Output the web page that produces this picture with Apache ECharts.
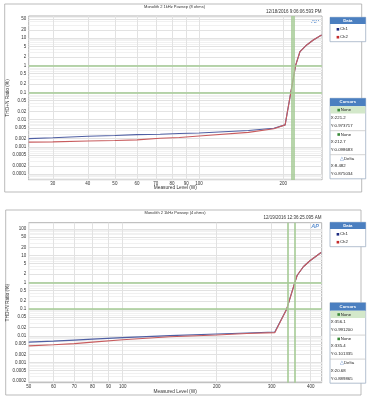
<!DOCTYPE html>
<html><head><meta charset="utf-8">
<script src="https://cdn.jsdelivr.net/npm/echarts@6/dist/echarts.min.js"></script>
<style>html,body{margin:0;padding:0;background:#fff}#c{width:372px;height:399px}</style>
</head><body><div id="c"></div>
<script>
// ---- data: top chart (8 ohms) ----
const topWatts = [24.6, 30, 40, 50, 60, 72.6, 85, 100, 150, 185, 203, 212.7, 221.2, 229.5, 242.5, 256, 274];
const topCh1   = [0.0020, 0.00215, 0.00245, 0.0026, 0.0028, 0.0029, 0.0031, 0.0032, 0.0040, 0.0048, 0.0064, 0.0987, 0.974, 3.2, 5.6, 8.5, 13];
const topCh2   = [0.00148, 0.00152, 0.00163, 0.0017, 0.0018, 0.00205, 0.0022, 0.0025, 0.0034, 0.0046, 0.0064, 0.0987, 0.974, 3.2, 5.6, 8.5, 13];
const topXTicks = [30, 40, 50, 60, 70, 80, 90, 100, 200];
const topYTicks = [0.0001, 0.0002, 0.0005, 0.001, 0.002, 0.005, 0.01, 0.02, 0.05, 0.1, 0.2, 0.5, 1, 2, 5, 10, 20, 50];
const topCursorX = [212.7, 221.2];
const topCursorY = [0.098683, 0.973717];
const topCursorText = ['X:221.2', 'Y:0.973717', 'X:212.7', 'Y:0.098683', 'X:8.482', 'Y:0.875034'];
// ---- data: bottom chart (4 ohms) ----
const botWatts = [50, 60, 70, 80, 100, 141.7, 200, 250, 307, 335.4, 356.1, 362, 379, 398, 432];
const botCh1   = [0.0058, 0.0063, 0.0069, 0.0075, 0.0085, 0.0101, 0.0116, 0.0127, 0.0138, 0.1013, 0.991, 1.8, 3.8, 6.4, 13];
const botCh2   = [0.0042, 0.0046, 0.0051, 0.0058, 0.0071, 0.0092, 0.0107, 0.0122, 0.0131, 0.1013, 0.991, 1.8, 3.8, 6.4, 13];
const botXTicks = [50, 60, 70, 80, 90, 100, 200, 300, 400];
const botYTicks = [0.0002, 0.0005, 0.001, 0.002, 0.005, 0.01, 0.02, 0.05, 0.1, 0.2, 0.5, 1, 2, 5, 10, 20, 50, 100];
const botCursorX = [335.4, 356.1];
const botCursorY = [0.101335, 0.991200];
const botCursorText = ['X:356.1', 'Y:0.991200', 'X:335.4', 'Y:0.101335', 'X:20.68', 'Y:0.889865'];

const titles = ['Monolith 2 1kHz Powsep (8 ohms)', 'Monolith 2 1kHz Powsep (4 ohms)'];
const stamps = ['12/18/2016 9:06:06.593 PM', '12/19/2016 12:36:25.095 AM'];
const legendNames = ['Ch1', 'Ch2'];

const L = Math.log10;
const FONT = 'Liberation Sans';
const C1 = '#4f5fa3', C2 = '#c85c5e';

function minorTicks(lo, hi) {
  const out = [];
  for (let e = -6; e <= 3; e++) for (let k = 1; k <= 9; k++) {
    const v = k * Math.pow(10, e);
    if (v >= lo && v <= hi) out.push(L(v));
  }
  return out;
}
const fmt = v => String(+Math.pow(10, v).toPrecision(3));

function xAxis(grid, min, max, ticks, gap) {
  return {
    type: 'value', gridIndex: grid, min: L(min), max: L(max),
    name: 'Measured Level (W)', nameLocation: 'middle', nameGap: gap, nameMoveOverlap: false,
    nameTextStyle: { fontSize: 4.8, color: '#333', fontFamily: FONT, verticalAlign: 'top' },
    axisLine: { show: false },
    axisTick: { show: false, customValues: ticks.map(L) },
    axisLabel: { customValues: ticks.map(L), formatter: fmt, fontSize: 4.5, color: '#333', fontFamily: FONT, margin: 1.5 },
    splitLine: { show: true, lineStyle: { color: '#e2e2e2', width: 1 } }
  };
}
function yAxis(grid, min, max, ticks) {
  return {
    type: 'value', gridIndex: grid, min: L(min), max: L(max), position: 'left',
    name: 'THD+N Ratio (%)', nameLocation: 'middle', nameGap: 19, nameMoveOverlap: false,
    nameTextStyle: { fontSize: 4.8, color: '#333', fontFamily: FONT },
    axisLine: { show: false },
    axisTick: { show: false, customValues: ticks.map(L) },
    axisLabel: { customValues: ticks.map(L), formatter: fmt, fontSize: 4.5, color: '#333', fontFamily: FONT, margin: 2.5 },
    splitLine: { show: true, lineStyle: { color: '#e2e2e2', width: 1 } }
  };
}
function yMinor(grid, min, max) {
  return {
    type: 'value', gridIndex: grid, min: L(min), max: L(max), position: 'left',
    axisLine: { show: false }, axisLabel: { show: false },
    axisTick: { show: false, customValues: minorTicks(min, max) },
    splitLine: { show: true, lineStyle: { color: '#f1f1f1', width: 1 } }
  };
}
function lineSeries(name, xi, yi, xs, ys, color, z, cursX, cursY) {
  const s = {
    name, type: 'line', xAxisIndex: xi, yAxisIndex: yi, symbol: 'none', z,
    lineStyle: { color, width: 1.1 }, itemStyle: { color },
    data: xs.map((x, i) => [L(x), L(ys[i])])
  };
  if (cursX) {
    s.markLine = {
      silent: true, symbol: ['none', 'none'], label: { show: false }, animation: false,
      lineStyle: { color: '#a5cb95', width: 1.6, type: 'solid' },
      data: cursX.map(v => ({ xAxis: L(v) })).concat(cursY.map(v => ({ yAxis: L(v) })))
    };
  }
  return s;
}

// ----- side panels (graphic) -----
const HB = '#4b7fc0', BR = '#9fb0c4';
function txt(x, y, t, opt) {
  return { type: 'text', x, y, style: Object.assign({ text: t, fontSize: 4.3, fontFamily: FONT, fill: '#222', align: 'left', verticalAlign: 'middle' }, opt || {}) };
}
function rect(x, y, w, h, fill, stroke) {
  return { type: 'rect', shape: { x, y, width: w, height: h }, style: { fill: fill || 'none', stroke: stroke || 'none', lineWidth: 0.8 } };
}
function panels(dataTop, cursTop, rows) {
  const x = 330, w = 35.7, cx = x + w / 2;
  const g = [];
  g.push(rect(x, dataTop, w, 24.4, '#fff', BR));
  g.push(rect(x, dataTop, w, 6.7, HB));
  g.push(txt(cx, dataTop + 3.4, 'Data', { fill: '#fff', align: 'center', fontWeight: 'bold' }));
  g.push(rect(336.6, dataTop + 10.7, 2.6, 2.6, '#1c2a80'));
  g.push(txt(340, dataTop + 12, legendNames[0]));
  g.push(rect(336.6, dataTop + 18.6, 2.6, 2.6, '#c42b2b'));
  g.push(txt(340, dataTop + 19.9, legendNames[1]));
  const ct = cursTop;
  g.push(rect(x, ct, w, 80.5, '#fff', BR));
  g.push(rect(x, ct, w, 8, HB));
  g.push(txt(cx, ct + 4, 'Cursors', { fill: '#fff', align: 'center', fontWeight: 'bold' }));
  g.push(rect(x + 0.4, ct + 8, w - 0.8, 7.2, '#d3e8ca'));
  g.push(rect(337.4, ct + 10.5, 2.6, 2.6, '#3b8a3b'));
  g.push(txt(340.8, ct + 11.8, 'None'));
  g.push(txt(330.8, ct + 19.3, rows[0]));
  g.push(txt(330.8, ct + 27.5, rows[1]));
  g.push({ type: 'line', shape: { x1: x, y1: ct + 32.4, x2: x + w, y2: ct + 32.4 }, style: { stroke: '#c8c8c8', lineWidth: 0.8 } });
  g.push(rect(337.4, ct + 34.9, 2.6, 2.6, '#3b8a3b'));
  g.push(txt(340.8, ct + 36.2, 'None'));
  g.push(txt(330.8, ct + 43.5, rows[2]));
  g.push(txt(330.8, ct + 51.5, rows[3]));
  g.push({ type: 'line', shape: { x1: x, y1: ct + 56.4, x2: x + w, y2: ct + 56.4 }, style: { stroke: '#c8c8c8', lineWidth: 0.8 } });
  g.push(txt(340.3, ct + 60.5, '△', { fill: '#3d6fb8', fontSize: 4.5 }));
  g.push(txt(344, ct + 60.5, 'Delta'));
  g.push(txt(330.8, ct + 67.8, rows[4]));
  g.push(txt(330.8, ct + 75.7, rows[5]));
  return g;
}

const graphics = [
  rect(4.7, 4, 357, 188, 'none', '#a9a9a9'),
  rect(5.7, 210, 355.3, 185, 'none', '#a9a9a9'),
  txt(315, 21.7, 'AP', { fill: '#5b8fd0', fontSize: 5.5, fontStyle: 'italic', fontWeight: 'bold', align: 'center' }),
  txt(315, 226.7, 'AP', { fill: '#5b8fd0', fontSize: 5.5, fontStyle: 'italic', fontWeight: 'bold', align: 'center' })
].concat(panels(17.3, 98.3, topCursorText), panels(222.3, 302.7, botCursorText));

const tStyle = fs => ({ fontSize: fs, fontWeight: 'normal', color: '#333', fontFamily: FONT });
const option = {
  animation: false,
  backgroundColor: '#fff',
  title: [
    { text: titles[0], left: 174.5, top: 5.3, padding: 0, textAlign: 'center', textStyle: tStyle(4) },
    { text: stamps[0], right: 50.5, top: 9.6, padding: 0, textStyle: tStyle(4.5) },
    { text: titles[1], left: 175, top: 211.3, padding: 0, textAlign: 'center', textStyle: tStyle(4) },
    { text: stamps[1], right: 50.5, top: 215, padding: 0, textStyle: tStyle(4.5) }
  ],
  grid: [
    { left: 28.7, top: 16, width: 293.3, height: 164, containLabel: false, outerBoundsMode: 'none', show: true, borderColor: '#b3b3b3', borderWidth: 1, backgroundColor: '#fff' },
    { left: 28.7, top: 222.7, width: 293, height: 160, containLabel: false, outerBoundsMode: 'none', show: true, borderColor: '#b3b3b3', borderWidth: 1, backgroundColor: '#fff' }
  ],
  xAxis: [xAxis(0, 24.6, 275, topXTicks, 5.4), xAxis(1, 50, 434, botXTicks, 6.6)],
  yAxis: [yMinor(0, 0.00006, 65), yAxis(0, 0.00006, 65, topYTicks), yMinor(1, 0.000176, 169), yAxis(1, 0.000176, 169, botYTicks)],
  series: [
    lineSeries('Ch1', 0, 1, topWatts, topCh1, C1, 2, topCursorX, topCursorY),
    lineSeries('Ch2', 0, 1, topWatts, topCh2, C2, 3),
    lineSeries('Ch1', 1, 3, botWatts, botCh1, C1, 2, botCursorX, botCursorY),
    lineSeries('Ch2', 1, 3, botWatts, botCh2, C2, 3)
  ],
  graphic: graphics
};
const chart = echarts.init(document.getElementById('c'), null, { renderer: 'canvas' });
chart.setOption(option);
</script></body></html>
